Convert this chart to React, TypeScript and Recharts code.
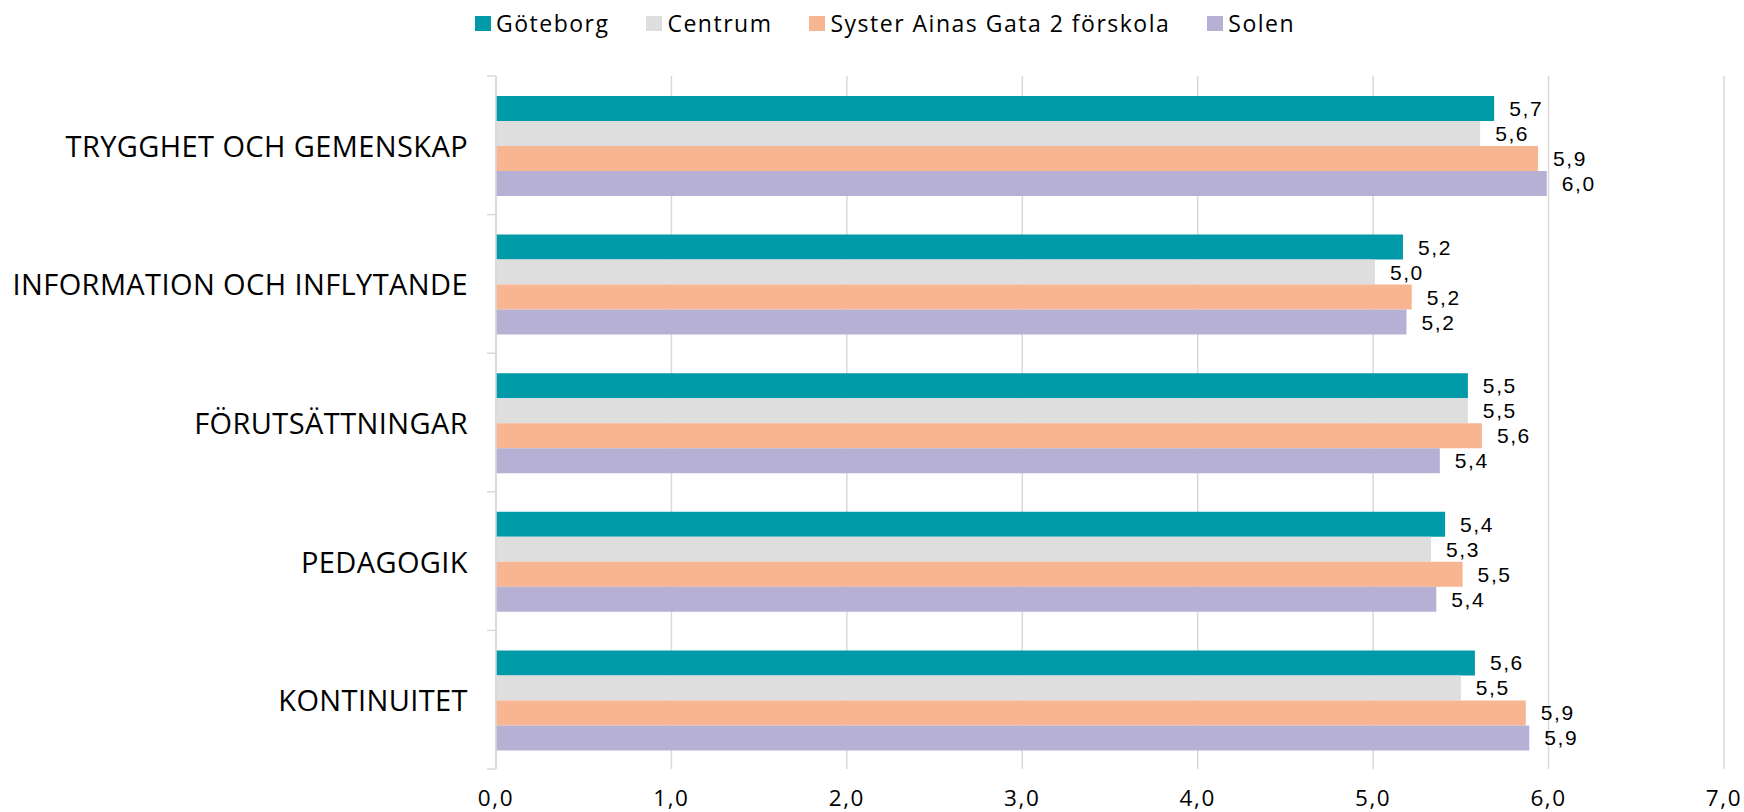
import React from 'react';
import { BarChart, Bar, XAxis, YAxis, CartesianGrid, Legend, LabelList } from 'recharts';

const categories = [
  'TRYGGHET OCH GEMENSKAP',
  'INFORMATION OCH INFLYTANDE',
  'FÖRUTSÄTTNINGAR',
  'PEDAGOGIK',
  'KONTINUITET',
];
const goteborg = [5.69, 5.17, 5.54, 5.41, 5.58];
const centrum = [5.61, 5.01, 5.54, 5.33, 5.5];
const syster = [5.94, 5.22, 5.62, 5.51, 5.87];
const solen = [5.99, 5.19, 5.38, 5.36, 5.89];
const seriesNames = ['Göteborg', 'Centrum', 'Syster Ainas Gata 2 förskola', 'Solen'];
const seriesKeys = ['goteborg', 'centrum', 'syster', 'solen'];
const seriesColors = ['#009aa8', '#dedede', '#f8b592', '#b5b0d4'];
const xTicks = [0, 1, 2, 3, 4, 5, 6, 7];

const data = categories.map((name, i) => ({
  name,
  goteborg: goteborg[i],
  centrum: centrum[i],
  syster: syster[i],
  solen: solen[i],
}));

const W = 1744;
const H = 812;
const PLOT_LEFT = 496;
const PLOT_TOP = 76;
const X_AXIS_H = 43;
const BAND = (H - PLOT_TOP - X_AXIS_H) / categories.length;
const GRID = '#d9d9d9';
const LABEL_FONT = "'Open Sans', sans-serif";

const fmt = (v: number) => v.toFixed(1).replace('.', ',');

const CategoryTick = (props: any) => {
  const { y, payload, index } = props;
  const last = index === categories.length - 1;
  return (
    <g>
      <line x1={PLOT_LEFT - 9} x2={PLOT_LEFT} y1={y - BAND / 2} y2={y - BAND / 2} stroke={GRID} strokeWidth={1.5} />
      {last && (
        <line x1={PLOT_LEFT - 9} x2={PLOT_LEFT} y1={y + BAND / 2} y2={y + BAND / 2} stroke={GRID} strokeWidth={1.5} />
      )}
      <text
        x={468}
        y={y}
        textAnchor="end"
        dominantBaseline="central"
        fontFamily={LABEL_FONT}
        fontSize={29}
        letterSpacing={0.4}
        fill="#000"
      >
        {payload.value}
      </text>
    </g>
  );
};

const LegendContent = () => (
  <div
    style={{
      height: PLOT_TOP,
      width: W,
      boxSizing: 'border-box',
      paddingLeft: 475,
      display: 'flex',
      alignItems: 'flex-start',
    }}
  >
    <div style={{ height: 46, display: 'flex', alignItems: 'center' }}>
      {seriesNames.map((n, i) => (
        <div key={n} style={{ display: 'flex', alignItems: 'center', marginRight: 37 }}>
          <div style={{ width: 16, height: 15, background: seriesColors[i], marginRight: 5 }} />
          <span
            style={{
              fontFamily: LABEL_FONT,
              fontSize: 23,
              letterSpacing: 1.5,
              color: '#000',
              lineHeight: '30px',
              whiteSpace: 'nowrap',
            }}
          >
            {n}
          </span>
        </div>
      ))}
    </div>
  </div>
);

export default function App() {
  return (
    <div style={{ position: 'absolute', left: 0, top: 0, width: W, height: H, background: '#fff' }}>
      <BarChart
        width={W}
        height={H}
        data={data}
        layout="vertical"
        margin={{ top: 0, right: 20, bottom: 0, left: 0 }}
        barCategoryGap={20}
        barGap={0}
      >
        <Legend
          verticalAlign="top"
          content={<LegendContent />}
          wrapperStyle={{ left: 0, top: 0, width: W }}
        />
        <CartesianGrid horizontal={false} stroke={GRID} strokeWidth={1.5} />
        <XAxis
          type="number"
          domain={[0, 7]}
          ticks={xTicks}
          height={X_AXIS_H}
          axisLine={false}
          tickLine={false}
          tickSize={0}
          tickMargin={21}
          tickFormatter={fmt}
          tick={{ fontFamily: LABEL_FONT, fontSize: 22.5, letterSpacing: 1.6, fill: '#000' }}
        />
        <YAxis
          type="category"
          dataKey="name"
          width={PLOT_LEFT}
          axisLine={{ stroke: GRID, strokeWidth: 1.5 }}
          tickLine={false}
          tick={<CategoryTick />}
          interval={0}
        />
        {seriesKeys.map((k, i) => (
          <Bar key={k} dataKey={k} name={seriesNames[i]} fill={seriesColors[i]} isAnimationActive={false}>
            <LabelList
              dataKey={k}
              position="right"
              offset={15}
              formatter={(v: any) => fmt(Number(v))}
              style={{ fontFamily: "'Liberation Sans', Arial, sans-serif", fontSize: 21, letterSpacing: 1.6, fill: '#000' }}
            />
          </Bar>
        ))}
      </BarChart>
    </div>
  );
}
